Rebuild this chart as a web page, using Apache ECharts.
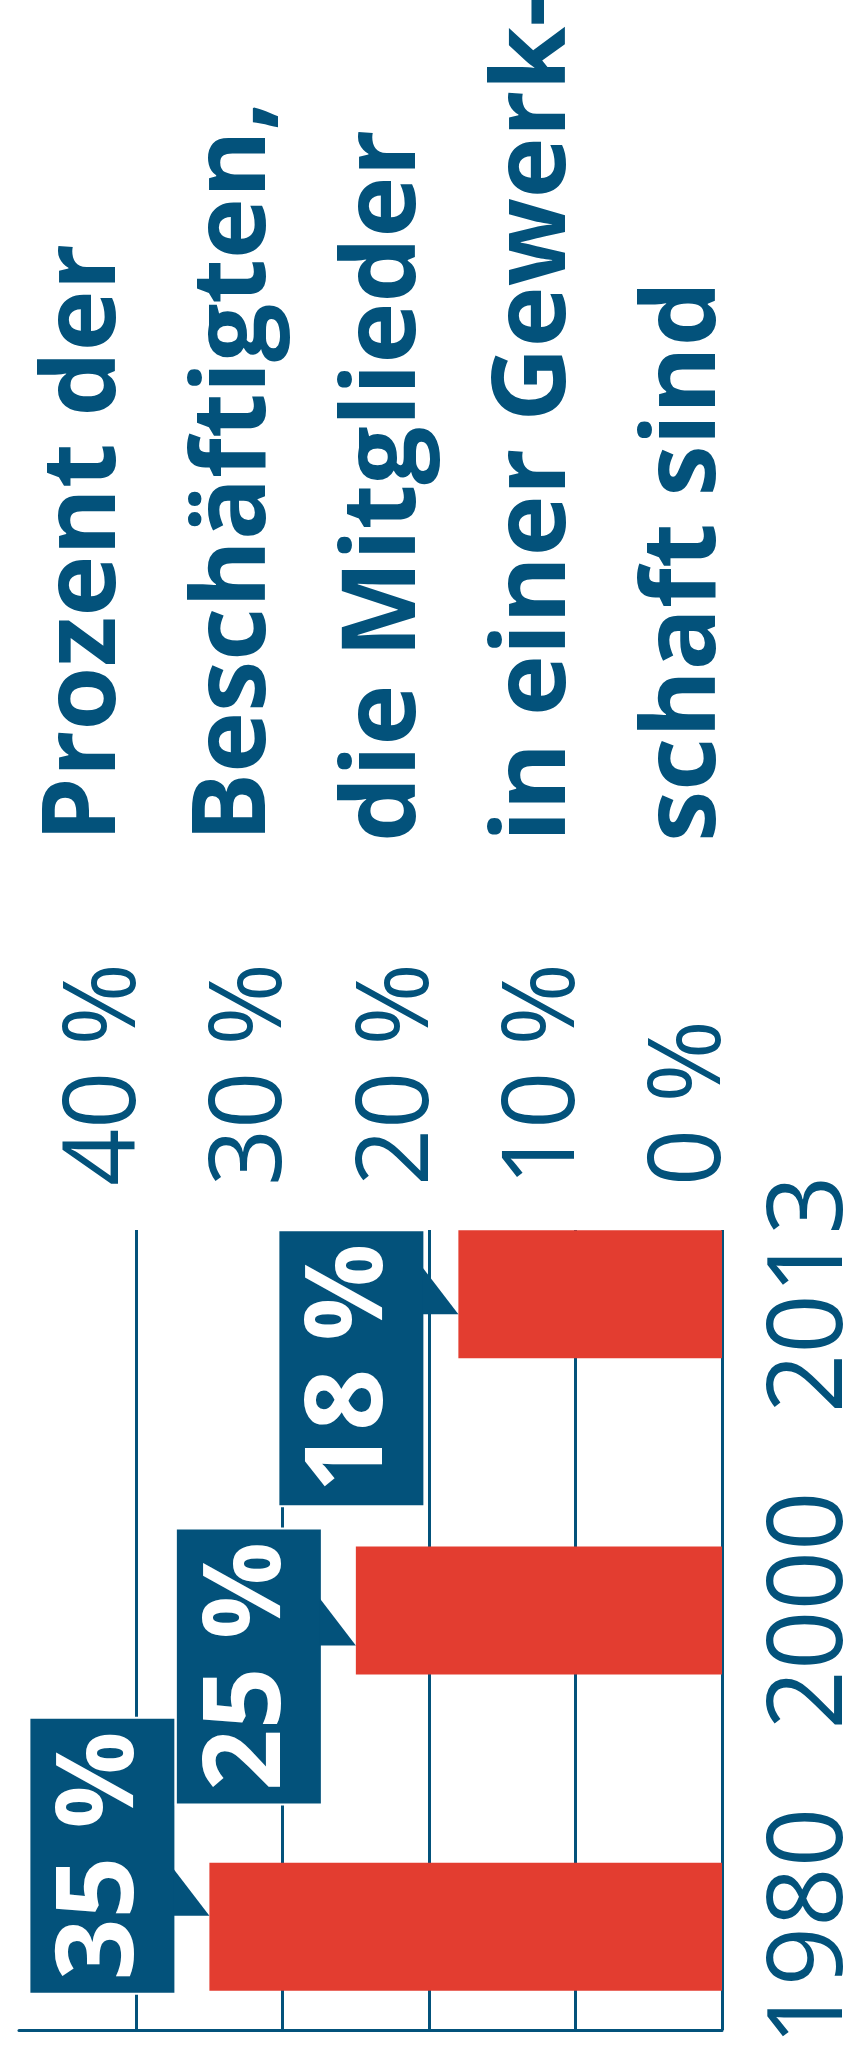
<!DOCTYPE html>
<html>
<head>
<meta charset="utf-8">
<title>Gewerkschaftsmitglieder</title>
<script src="https://cdn.jsdelivr.net/npm/echarts@6.0.0/dist/echarts.min.js"></script>
<style>
  html, body { margin: 0; padding: 0; background: #ffffff; }
  #chart { width: 850px; height: 2047px; }
</style>
</head>
<body>
<div id="chart"></div>
<script>
// Union membership share of employees (percent)
const years = ['1980', '2000', '2013'];
const unionShare = [35, 25, 18];
const shareTicks = [0, 10, 20, 30, 40];
const titleLines = ['Prozent der', 'Beschäftigten,', 'die Mitglieder', 'in einer Gewerk-', 'schaft sind'];

const BLUE = '#03527b';
const RED = '#e33d30';
const FONT = '"Open Sans", "Noto Sans", sans-serif';

// Callout box placement along the band, per year (px)
const calloutLift = [198, 117, 84];   // box top above the pointer tip
const tipShift = [-11, 35, 20];       // pointer tip offset from band centre
const BOX_W = 146, BOX_H = 276, TIP_GAP = 34, TIP_H = 47;

const chart = echarts.init(document.getElementById('chart'), null, { renderer: 'canvas' });

const valueScale = { type: 'value', inverse: true, min: 0, max: 48, interval: 10 };

const option = {
  animation: false,
  backgroundColor: '#ffffff',
  grid: [
    // grid lines and baseline
    { left: 19, right: 128, top: 1230, bottom: 17, outerBoundsMode: 'none', containLabel: false },
    // bars and callouts
    { left: 19, right: 128, top: 1136, bottom: -38, outerBoundsMode: 'none', containLabel: false }
  ],
  xAxis: [
    Object.assign({}, valueScale, {
      gridIndex: 0, position: 'bottom',
      axisLine: { show: true, lineStyle: { color: BLUE, width: 3 } },
      axisTick: { show: false },
      axisLabel: { show: false },
      splitLine: { show: true, showMaxLine: false, lineStyle: { color: BLUE, width: 3 } }
    }),
    Object.assign({}, valueScale, {
      gridIndex: 0, position: 'top',
      axisLine: { show: false },
      axisTick: { show: false },
      splitLine: { show: false },
      axisLabel: {
        show: true, rotate: -90, margin: 44,
        showMaxLabel: false,
        verticalAlign: 'bottom', lineHeight: 60,
        color: BLUE, fontFamily: FONT, fontSize: 100, fontWeight: 'normal',
        formatter: v => shareTicks.indexOf(v) >= 0 ? v + ' %' : ''
      }
    }),
    Object.assign({}, valueScale, { gridIndex: 1, show: false })
  ],
  yAxis: [
    {
      type: 'category', gridIndex: 1, data: years, position: 'right',
      axisLine: { show: false }, axisTick: { show: false }, splitLine: { show: false },
      axisLabel: {
        rotate: 90, margin: 38,
        color: BLUE, fontFamily: FONT, fontSize: 104, fontWeight: 'normal'
      }
    },
    { type: 'value', gridIndex: 0, min: 0, max: 1, show: false }
  ],
  series: [
    {
      type: 'bar', xAxisIndex: 2, yAxisIndex: 0,
      data: unionShare, barWidth: 128,
      itemStyle: { color: RED },
      z: 3
    },
    {
      type: 'custom', xAxisIndex: 2, yAxisIndex: 0, z: 5,
      data: unionShare.map((v, i) => [v, i]),
      renderItem: function (params, api) {
        const i = params.dataIndex;
        const val = api.value(0);
        const p = api.coord([val, api.value(1)]);
        const tx = p[0];
        const ty = p[1] + tipShift[i];
        const right = tx - TIP_GAP;
        const left = right - BOX_W;
        const top = ty - calloutLift[i];
        return {
          type: 'group',
          children: [
            {
              type: 'rect',
              shape: { x: left, y: top, width: BOX_W, height: BOX_H },
              style: { fill: BLUE, stroke: '#ffffff', lineWidth: 2 }
            },
            {
              type: 'polygon',
              shape: { points: [[right - 2, ty - TIP_H], [tx, ty], [right - 2, ty]] },
              style: { fill: BLUE }
            },
            {
              type: 'text',
              x: left + BOX_W / 2, y: top + BOX_H / 2,
              rotation: Math.PI / 2,
              style: {
                text: val + ' %', fill: '#ffffff',
                font: 'bold 108px ' + FONT,
                align: 'center', verticalAlign: 'middle'
              }
            }
          ]
        };
      }
    }
  ],
  graphic: titleLines.map((line, i) => ({
    type: 'text',
    x: 86 + i * 150, y: 842,
    rotation: Math.PI / 2,
    style: {
      text: line, fill: BLUE,
      font: 'bold 103px ' + FONT,
      align: 'left', verticalAlign: 'middle'
    }
  }))
};

chart.setOption(option);
</script>
</body>
</html>
